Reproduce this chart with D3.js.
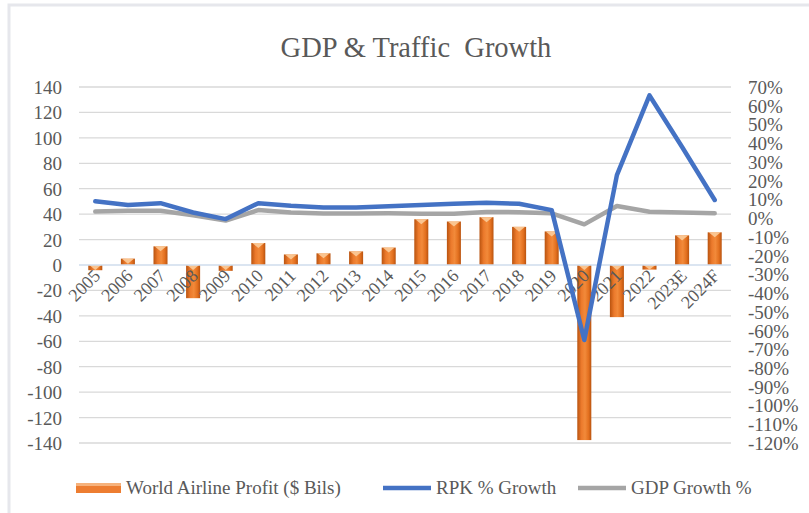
<!DOCTYPE html>
<html>
<head>
<meta charset="utf-8">
<script src="https://cdnjs.cloudflare.com/ajax/libs/d3/7.8.5/d3.min.js"></script>
<style>
  html, body { margin: 0; padding: 0; background: #fff; }
  svg { display: block; font-family: "Liberation Serif", "Times New Roman", serif; }
  .tick-label { fill: #595959; font-size: 19px; font-family: "Liberation Serif", "Times New Roman", serif; }
</style>
</head>
<body>
<svg id="chart" width="809" height="513"></svg>
<script>
// Categories and series.
var years = ['2005', '2006', '2007', '2008', '2009', '2010', '2011', '2012', '2013', '2014',
             '2015', '2016', '2017', '2018', '2019', '2020', '2021', '2022', '2023E', '2024F'];

// World airline profit, $ billions (left axis)
var profit = [-4.1, 5.0, 14.7, -26.1, -4.6, 17.3, 8.3, 9.2, 10.7, 13.7,
              36.0, 34.2, 37.6, 30.0, 26.4, -137.7, -41.0, -3.6, 23.3, 25.7];

// RPK growth, % (right axis)
var rpk = [9.0, 7.0, 8.0, 3.0, -0.5, 8.0, 6.6, 5.7, 5.7, 6.3,
           7.0, 7.7, 8.2, 7.7, 4.3, -65.0, 23.0, 65.5, 38.0, 9.7];

// GDP growth, % (right axis)
var gdp = [3.5, 4.0, 4.0, 1.5, -1.3, 4.3, 3.0, 2.5, 2.5, 2.6,
           2.4, 2.4, 3.3, 3.2, 2.6, -3.3, 6.5, 3.4, 3.0, 2.6];

var leftTicks = d3.range(-140, 141, 20);
var rightTicks = d3.range(-120, 71, 10);

var legendItems = [
  { label: 'World Airline Profit ($ Bils)', kind: 'bar' },
  { label: 'RPK % Growth', kind: 'line', color: '#4472c4' },
  { label: 'GDP Growth %', kind: 'line', color: '#a5a5a5' }
];

(function() {
  var svg = d3.select('#chart');
  var plotLeft = 79, plotRight = 731, plotTop = 87, plotBottom = 443;

  // Light frame on the left and top edges, as in the reference.
  svg.append('rect')
    .attr('x', 9).attr('y', 5).attr('width', 830).attr('height', 540)
    .attr('fill', '#fff').attr('stroke', '#e6e7ec').attr('stroke-width', 3);

  var defs = svg.append('defs');
  var grad = defs.append('linearGradient').attr('id', 'barGrad')
    .attr('x1', '0%').attr('x2', '100%').attr('y1', '0%').attr('y2', '0%');
  grad.append('stop').attr('offset', '0%').attr('stop-color', '#b9530f');
  grad.append('stop').attr('offset', '30%').attr('stop-color', '#ec7a2c');
  grad.append('stop').attr('offset', '55%').attr('stop-color', '#f28a3a');
  grad.append('stop').attr('offset', '80%').attr('stop-color', '#e3701f');
  grad.append('stop').attr('offset', '100%').attr('stop-color', '#b9530f');

  var x = d3.scaleBand().domain(years).range([plotLeft, plotRight])
    .paddingInner(0.57).paddingOuter(0.285);
  var yL = d3.scaleLinear().domain([-140, 140]).range([plotBottom, plotTop]);
  var yR = d3.scaleLinear().domain([-120, 70]).range([plotBottom, plotTop]);
  var cx = function(d) { return x(d) + x.bandwidth() / 2; };

  // Title
  svg.append('text')
    .attr('x', 416).attr('y', 57)
    .attr('text-anchor', 'middle')
    .attr('fill', '#595959')
    .style('font-size', '28.5px')
    .style('white-space', 'pre')
    .text('GDP & Traffic  Growth');

  // Gridlines
  svg.append('g').selectAll('line')
    .data(leftTicks.filter(function(t) { return t !== 0; }))
    .enter().append('line')
    .attr('x1', plotLeft).attr('x2', plotRight)
    .attr('y1', function(d) { return yL(d); })
    .attr('y2', function(d) { return yL(d); })
    .attr('stroke', '#d9d9d9').attr('stroke-width', 1.3);

  // Left axis
  var leftAxis = svg.append('g')
    .attr('transform', 'translate(' + (plotLeft - 17) + ',0)')
    .call(d3.axisLeft(yL).tickValues(leftTicks).tickSize(0).tickPadding(0)
      .tickFormat(function(d) { return String(d); }));
  leftAxis.attr('font-family', null).attr('font-size', null);
  leftAxis.select('.domain').remove();
  leftAxis.selectAll('text').attr('class', 'tick-label').attr('dy', '0.34em');

  // Right axis
  var rightAxis = svg.append('g')
    .attr('transform', 'translate(748,0)')
    .call(d3.axisRight(yR).tickValues(rightTicks).tickSize(0).tickPadding(0)
      .tickFormat(function(d) { return String(d) + '%'; }));
  rightAxis.attr('font-family', null).attr('font-size', null);
  rightAxis.select('.domain').remove();
  rightAxis.selectAll('text').attr('class', 'tick-label').attr('dy', '0.34em');

  // Bars
  var bars = svg.append('g');
  bars.selectAll('rect.bar')
    .data(years)
    .enter().append('rect')
    .attr('class', 'bar')
    .attr('x', function(d) { return x(d); })
    .attr('width', x.bandwidth())
    .attr('y', function(d, i) { return Math.min(yL(profit[i]), yL(0)); })
    .attr('height', function(d, i) { return Math.abs(yL(profit[i]) - yL(0)); })
    .attr('fill', 'url(#barGrad)');

  // Light bevel on top end of each bar
  bars.selectAll('path.bevel')
    .data(years)
    .enter().append('path')
    .attr('class', 'bevel')
    .attr('d', function(d, i) {
      var top = Math.min(yL(profit[i]), yL(0));
      var h = Math.min(5, Math.abs(yL(profit[i]) - yL(0)));
      var x0 = x(d), w = x.bandwidth();
      return 'M' + (x0 + 1) + ',' + top + 'L' + (x0 + w - 1) + ',' + top +
             'L' + (x0 + w / 2) + ',' + (top + h) + 'Z';
    })
    .attr('fill', '#fbd0a0').attr('opacity', 0.85);

  // Zero axis line
  svg.append('line')
    .attr('x1', plotLeft).attr('x2', plotRight)
    .attr('y1', yL(0)).attr('y2', yL(0))
    .attr('stroke', '#cfdcec').attr('stroke-width', 1.5);

  // Category labels, rotated
  svg.append('g').selectAll('text')
    .data(years)
    .enter().append('text')
    .attr('class', 'tick-label')
    .style('font-size', '18px')
    .attr('text-anchor', 'end')
    .attr('transform', function(d) {
      return 'translate(' + (cx(d) + 6) + ',' + (yL(0) + 12) + ') rotate(-45)';
    })
    .text(function(d) { return d; });

  // Lines
  var line = d3.line()
    .x(function(d, i) { return cx(years[i]); })
    .y(function(d) { return yR(d); });

  svg.append('path').datum(gdp)
    .attr('d', line)
    .attr('fill', 'none').attr('stroke', '#a5a5a5')
    .attr('stroke-width', 4.5).attr('stroke-linejoin', 'round').attr('stroke-linecap', 'round');

  svg.append('path').datum(rpk)
    .attr('d', line)
    .attr('fill', 'none').attr('stroke', '#4472c4')
    .attr('stroke-width', 4.5).attr('stroke-linejoin', 'round').attr('stroke-linecap', 'round');

  // Legend
  var legendX = [76, 383, 578];
  var legend = svg.append('g');
  legendItems.forEach(function(item, i) {
    var g = legend.append('g').attr('transform', 'translate(' + legendX[i] + ',488)');
    if (item.kind === 'bar') {
      g.append('rect').attr('x', 0).attr('y', -5).attr('width', 45).attr('height', 10)
        .attr('fill', '#ed7d31');
      g.append('rect').attr('x', 0).attr('y', -5).attr('width', 45).attr('height', 3)
        .attr('fill', '#f6b27c');
    } else {
      g.append('line').attr('x1', 0).attr('x2', 48).attr('y1', 0).attr('y2', 0)
        .attr('stroke', item.color).attr('stroke-width', 4.5);
    }
    g.append('text')
      .attr('x', item.kind === 'bar' ? 50 : 53)
      .attr('y', 6)
      .attr('class', 'tick-label')
      .text(item.label);
  });
})();
</script>
</body>
</html>
